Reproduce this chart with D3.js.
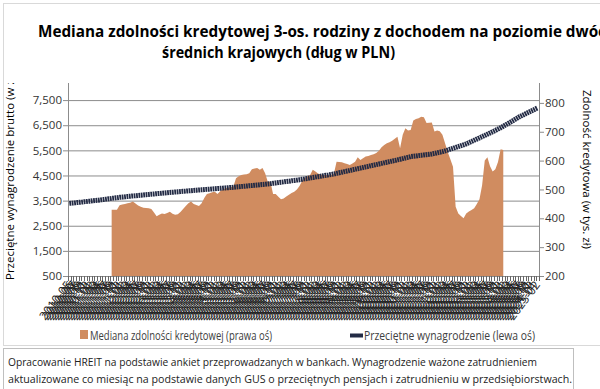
<!doctype html>
<html lang="pl">
<head>
<meta charset="utf-8">
<title>Mediana zdolności kredytowej</title>
<script src="https://d3js.org/d3.v7.min.js"></script>
<style>
  body { margin: 0; background: #fff; }
  svg { display: block; font-family: "Open Sans", sans-serif; }
</style>
</head>
<body>
<svg width="600" height="389"></svg>
<script>
var svg = d3.select('svg');

// monthly categories start
var startYear = 2010, startMonth = 5;
var monthNames = ['01','02','03','04','05','06','07','08','09','10','11','12'];

// przeciętne wynagrodzenie (lewa oś), zł
var wage = [
  3390,3400,3410,3425,3435,3445,3460,3470,3480,3495,3505,3515,3530,3545,3560,3575,3590,3600,3615,3630,
  3640,3650,3665,3675,3685,3695,3705,3715,3725,3735,3745,3755,3765,3775,3785,3795,3805,3815,3824,3833,
  3842,3851,3860,3869,3878,3887,3896,3905,3914,3922,3930,3938,3947,3955,3963,3972,3980,3988,3997,4005,
  4013,4022,4030,4040,4050,4060,4070,4080,4090,4100,4110,4120,4131,4141,4151,4161,4175,4189,4203,4217,
  4231,4245,4259,4273,4287,4301,4315,4330,4347,4365,4383,4400,4418,4436,4453,4471,4489,4507,4524,4542,
  4560,4583,4606,4630,4653,4676,4700,4723,4746,4770,4793,4816,4840,4863,4887,4910,4934,4957,4980,5004,
  5027,5050,5074,5097,5120,5144,5170,5197,5223,5250,5263,5276,5290,5303,5316,5329,5342,5355,5378,5400,
  5423,5446,5480,5513,5547,5580,5615,5650,5684,5719,5753,5801,5850,5898,5946,5995,6043,6093,6143,6193,
  6243,6293,6345,6400,6460,6520,6580,6640,6700,6765,6830,6882,6934,6986,7038,7090,7140,7190
];

// mediana zdolności kredytowej (prawa oś), tys. zł
var capacity = [
  null,null,null,null,null,null,null,null,null,null,null,null,null,null,null,null,
  430,430,430,445,448,450,452,454,458,451,444,440,437,436,435,432,420,407,412,417,
  415,418,423,416,412,414,422,432,443,452,458,450,446,443,452,470,484,487,490,492,
  484,494,500,504,506,508,510,539,546,550,552,553,556,570,573,574,568,574,556,527,
  527,484,484,475,466,469,476,482,488,492,500,512,530,540,546,550,568,562,555,552,
  550,550,550,550,555,596,595,594,591,588,585,590,596,612,602,608,614,616,619,622,
  626,634,646,654,660,664,669,676,683,643,690,712,704,706,739,744,747,752,750,730,
  731,732,701,704,702,690,660,630,605,579,440,417,408,400,417,424,429,435,450,466,
  515,600,612,580,562,570,595,639,637,
  null,null,null,null,null,null,null,null,null,null,null,null,null
];

var leftTicks = [500,1500,2500,3500,4500,5500,6500,7500];
var rightTicks = [200,300,400,500,600,700,800];

var categories = wage.map(function(d, i){
  var m = startMonth - 1 + i;
  return (startYear + Math.floor(m / 12)) + '-' + monthNames[m % 12];
});

var plotL = 68, plotR = 539, plotT = 83, plotB = 276;
var grey = '#8c8c8c';
var orange = '#d08c60', navy = '#232b45';

var x = d3.scaleBand().domain(categories).range([plotL, plotR]);
var xc = function(i){ return x(categories[i]) + x.bandwidth() / 2; };
var yL = d3.scaleLinear().domain([500, 8180]).range([plotB, plotT]);
var yR = d3.scaleLinear().domain([200, 869]).range([plotB, plotT]);

// borders
svg.append('rect').attr('x', 3.5).attr('y', 3.5).attr('width', 620).attr('height', 342)
  .attr('fill', 'none').attr('stroke', '#d9d9d9');
svg.append('rect').attr('x', 3.5).attr('y', 348.5).attr('width', 570).attr('height', 60)
  .attr('fill', '#fff').attr('stroke', '#bfbfbf');

// title
var title = svg.append('g').attr('font-weight', 'bold').attr('font-size', 15.5).attr('fill', '#000');
title.append('text').attr('x', 38).attr('y', 37).attr('textLength', 578).attr('lengthAdjust', 'spacingAndGlyphs')
  .text('Mediana zdolności kredytowej 3-os. rodziny z dochodem na poziomie dwóch');
title.append('text').attr('x', 162).attr('y', 58).attr('textLength', 233).attr('lengthAdjust', 'spacingAndGlyphs')
  .text('średnich krajowych (dług w PLN)');

// gridlines
var grid = svg.append('g').attr('transform', 'translate(' + plotL + ',0)')
  .call(d3.axisLeft(yL).tickValues(leftTicks).tickSize(-(plotR - plotL)).tickFormat(''));
grid.select('.domain').remove();
grid.selectAll('line').attr('stroke', grey);

// area
var area = d3.area()
  .defined(function(d){ return d != null; })
  .x(function(d, i){ return xc(i); })
  .y0(yR(200))
  .y1(function(d){ return yR(d); });
svg.append('path').datum(capacity).attr('d', area).attr('fill', orange);

// line
var line = d3.line().x(function(d, i){ return xc(i); }).y(function(d){ return yL(d); });
svg.append('path').datum(wage).attr('d', line).attr('fill', 'none')
  .attr('stroke', navy).attr('stroke-width', 5).attr('stroke-dasharray', '1.8,0.6');

// left axis
var la = svg.append('g').attr('transform', 'translate(' + plotL + ',0)')
  .call(d3.axisLeft(yL).tickValues(leftTicks).tickSizeInner(5).tickSizeOuter(0).tickPadding(1).tickFormat(d3.format(',')));
la.select('.domain').attr('stroke', grey).attr('d', 'M0.5,' + plotT + 'V' + plotB);
la.selectAll('line').attr('stroke', grey);
la.selectAll('text').attr('font-size', 11.5).attr('fill', '#333').attr('font-family', '"Open Sans", sans-serif');

// right axis
var ra = svg.append('g').attr('transform', 'translate(' + plotR + ',0)')
  .call(d3.axisRight(yR).tickValues(rightTicks).tickSizeInner(5).tickSizeOuter(0).tickPadding(1));
ra.select('.domain').attr('stroke', grey).attr('d', 'M0.5,' + plotT + 'V' + plotB);
ra.selectAll('line').attr('stroke', grey);
ra.selectAll('text').attr('font-size', 11.5).attr('fill', '#333').attr('font-family', '"Open Sans", sans-serif');

// x axis
var xa = svg.append('g');
xa.append('line').attr('x1', plotL).attr('x2', plotR).attr('y1', plotB + 0.5).attr('y2', plotB + 0.5).attr('stroke', grey);
xa.selectAll('.tk').data(categories.concat([null])).enter().append('line')
  .attr('x1', function(d, i){ return Math.round(plotL + i * x.step()) + 0.5; })
  .attr('x2', function(d, i){ return Math.round(plotL + i * x.step()) + 0.5; })
  .attr('y1', plotB).attr('y2', plotB + 5).attr('stroke', '#666');
xa.selectAll('.lbl').data(categories).enter().append('text')
  .attr('transform', function(d, i){ return 'translate(' + (xc(i) + 3) + ',' + (plotB + 9) + ') rotate(-53)'; })
  .attr('text-anchor', 'end').attr('font-size', 12).attr('fill', '#222')
  .text(function(d){ return d; });

// axis titles
svg.append('clipPath').attr('id', 'clipL').append('rect').attr('x', 0).attr('y', plotT).attr('width', 40).attr('height', 300);
svg.append('g').attr('clip-path', 'url(#clipL)').append('text')
  .attr('transform', 'translate(14,280) rotate(-90)')
  .attr('font-size', 11.5).attr('fill', '#000')
  .text('Przeciętne wynagrodzenie brutto (w zł)');
svg.append('text')
  .attr('transform', 'translate(583,90) rotate(90)')
  .attr('font-size', 11.5).attr('fill', '#000')
  .text('Zdolność kredytowa (w tys. zł)');

// legend
var lg = svg.append('g').attr('font-size', 12.5).attr('fill', '#404040');
lg.append('rect').attr('x', 80).attr('y', 330).attr('width', 8).attr('height', 9).attr('fill', orange);
lg.append('text').attr('x', 90).attr('y', 340).attr('textLength', 182).attr('lengthAdjust', 'spacingAndGlyphs')
  .text('Mediana zdolności kredytowej (prawa oś)');
lg.append('line').attr('x1', 350).attr('x2', 363).attr('y1', 335.5).attr('y2', 335.5)
  .attr('stroke', navy).attr('stroke-width', 4);
lg.append('text').attr('x', 364).attr('y', 340).attr('textLength', 171).attr('lengthAdjust', 'spacingAndGlyphs')
  .text('Przeciętne wynagrodzenie (lewa oś)');

// footnote
var fn = svg.append('g').attr('font-size', 11).attr('fill', '#222');
fn.append('text').attr('x', 8).attr('y', 366).attr('textLength', 529).attr('lengthAdjust', 'spacingAndGlyphs')
  .text('Opracowanie HREIT na podstawie ankiet przeprowadzanych w bankach. Wynagrodzenie ważone zatrudnieniem');
fn.append('text').attr('x', 8).attr('y', 383).attr('textLength', 564).attr('lengthAdjust', 'spacingAndGlyphs')
  .text('aktualizowane co miesiąc na podstawie danych GUS o przeciętnych pensjach i zatrudnieniu w przedsiębiorstwach.');
</script>
</body>
</html>
